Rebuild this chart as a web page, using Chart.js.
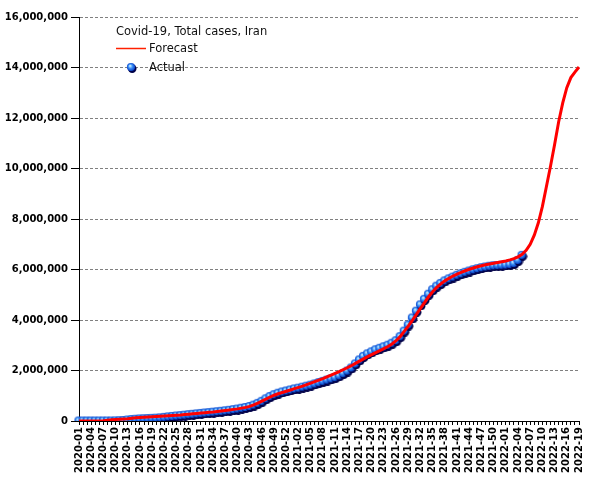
<!DOCTYPE html>
<html>
<head>
<meta charset="utf-8">
<script src="https://cdn.jsdelivr.net/npm/chart.js@4/dist/chart.umd.min.js"></script>
<style>
  body { margin: 0; background: #fff; }
</style>
</head>
<body>
<canvas id="CasesChart" width="605" height="480"></canvas>
<script>
// weeks shown per year on the x axis
const weekYears = [2020, 2021, 2022];
const weekCounts = [53, 52, 19];

const yTicks = [0, 2e6, 4e6, 6e6, 8e6, 10e6, 12e6, 14e6, 16e6];

// total cases, millions, weekly from 2020-01
const actual = [
  0, 0, 0, 0, 0, 0, 0, 0, 0.001, 0.007,
  0.014, 0.021, 0.04, 0.058, 0.071, 0.082, 0.09, 0.097, 0.105, 0.113,
  0.126, 0.146, 0.165, 0.183, 0.2, 0.215, 0.232, 0.25, 0.266, 0.283,
  0.3, 0.318, 0.334, 0.35, 0.368, 0.386, 0.405, 0.425, 0.45, 0.475,
  0.505, 0.535, 0.575, 0.63, 0.7, 0.78, 0.88, 0.97, 1.04, 1.1,
  1.15, 1.19, 1.23, 1.27, 1.3, 1.34, 1.38, 1.42, 1.47, 1.52,
  1.57, 1.62, 1.67, 1.72, 1.79, 1.88, 1.98, 2.1, 2.26, 2.42,
  2.56, 2.66, 2.74, 2.82, 2.88, 2.94, 3.0, 3.08, 3.18, 3.34,
  3.56, 3.8, 4.08, 4.35, 4.6, 4.82, 5.02, 5.2, 5.34, 5.45,
  5.55, 5.63, 5.7, 5.77, 5.83, 5.89, 5.94, 5.99, 6.03, 6.07,
  6.1, 6.13, 6.15, 6.16, 6.17, 6.18, 6.2, 6.24, 6.36, 6.56
];

const forecast = [
  0, 0, 0, 0, 0, 0, 0.01, 0.03, 0.05, 0.06,
  0.07, 0.08, 0.09, 0.11, 0.13, 0.14, 0.15, 0.16, 0.17, 0.18,
  0.19, 0.2, 0.21, 0.22, 0.23, 0.24, 0.255, 0.27, 0.285, 0.3,
  0.315, 0.33, 0.345, 0.36, 0.38, 0.4, 0.42, 0.44, 0.46, 0.48,
  0.51, 0.54, 0.58, 0.64, 0.71, 0.79, 0.87, 0.95, 1.02, 1.08,
  1.13, 1.18, 1.23, 1.28, 1.33, 1.38, 1.44, 1.5, 1.56, 1.62,
  1.68, 1.75, 1.82, 1.89, 1.96, 2.03, 2.11, 2.19, 2.28, 2.37,
  2.46, 2.55, 2.63, 2.71, 2.79, 2.87, 2.95, 3.05, 3.18, 3.34,
  3.55, 3.76, 3.98, 4.22, 4.46, 4.69, 4.92, 5.12, 5.29, 5.43,
  5.55, 5.65, 5.74, 5.82, 5.89, 5.95, 6.01, 6.06, 6.11, 6.15,
  6.19, 6.22, 6.25, 6.28, 6.31, 6.34, 6.38, 6.43, 6.5, 6.6,
  6.76, 7.0, 7.36, 7.85, 8.5, 9.3, 10.1, 10.95, 11.85, 12.6,
  13.2, 13.6, 13.82, 14.02
];

const weekLabels = [];
weekYears.forEach((yr, k) => {
  for (let w = 1; w <= weekCounts[k]; w++) {
    weekLabels.push(yr + '-' + String(w).padStart(2, '0'));
  }
});

// shaded blue ball used for the actual points
function makeBall() {
  const c = document.createElement('canvas');
  c.width = 11; c.height = 11;
  const g = c.getContext('2d');
  g.fillStyle = '#000048';
  g.beginPath(); g.arc(6.2, 6.6, 4.3, 0, Math.PI * 2); g.fill();
  const grad = g.createRadialGradient(4, 3.8, 0.3, 5, 5, 4.4);
  grad.addColorStop(0, '#c8f0ff');
  grad.addColorStop(0.45, '#3a8cf5');
  grad.addColorStop(1, '#0036c0');
  g.fillStyle = grad;
  g.beginPath(); g.arc(5, 5, 4.1, 0, Math.PI * 2); g.fill();
  return c;
}
const ball = makeBall();

const legendInside = {
  id: 'legendInside',
  afterDraw(chart) {
    const ctx = chart.ctx;
    ctx.save();
    ctx.fillStyle = '#111';
    ctx.textBaseline = 'alphabetic';
    ctx.font = '11.5px "DejaVu Sans"';
    ctx.fillText('Covid-19, Total cases, Iran', 116, 35);
    ctx.strokeStyle = '#ff2000';
    ctx.lineWidth = 1.5;
    ctx.beginPath(); ctx.moveTo(116, 48.5); ctx.lineTo(146, 48.5); ctx.stroke();
    ctx.fillText(chart.data.datasets[0].label, 149, 52);
    ctx.drawImage(ball, 126, 62);
    ctx.fillText(chart.data.datasets[1].label, 149, 70.5);
    ctx.restore();
  }
};

const ctx = document.getElementById('CasesChart').getContext('2d');
new Chart(ctx, {
  type: 'line',
  data: {
    labels: weekLabels,
    datasets: [{
      label: 'Forecast',
      data: forecast.map(v => v * 1e6),
      borderColor: '#ff0000',
      borderWidth: 3,
      pointRadius: 0,
      fill: false,
      tension: 0,
      order: 0
    }, {
      label: 'Actual',
      data: actual.map(v => v * 1e6),
      showLine: false,
      pointStyle: ball,
      pointRadius: 5,
      order: 1
    }]
  },
  options: {
    responsive: false,
    devicePixelRatio: 1,
    animation: false,
    layout: { padding: { top: 17, right: 26, left: 0, bottom: 0 } },
    plugins: { legend: { display: false }, tooltip: { enabled: false } },
    scales: {
      x: {
        offset: false,
        afterFit: s => { s.height = 59; },
        grid: { display: true, drawOnChartArea: false, tickLength: 4, tickColor: '#000' },
        border: { color: '#000', width: 1 },
        ticks: {
          autoSkip: false,
          maxRotation: 90,
          minRotation: 90,
          padding: 2,
          color: '#000',
          font: { family: 'DejaVu Sans', size: 10, weight: 'bold' },
          callback: function (v, i) { return i % 3 === 0 ? this.getLabelForValue(v) : ''; }
        }
      },
      y: {
        min: 0,
        max: 16e6,
        afterFit: s => { s.width = 79; },
        afterBuildTicks: s => { s.ticks = yTicks.map(v => ({ value: v })); },
        grid: { color: '#808080', lineWidth: 1, tickLength: 8, tickColor: '#000', tickBorderDash: [] },
        border: { color: '#000', width: 1, dash: [3, 2] },
        ticks: {
          padding: 3,
          color: '#000',
          font: { family: 'DejaVu Sans', size: 10, weight: 'bold' },
          callback: v => v.toLocaleString('en-US')
        }
      }
    }
  },
  plugins: [legendInside]
});
</script>
</body>
</html>
